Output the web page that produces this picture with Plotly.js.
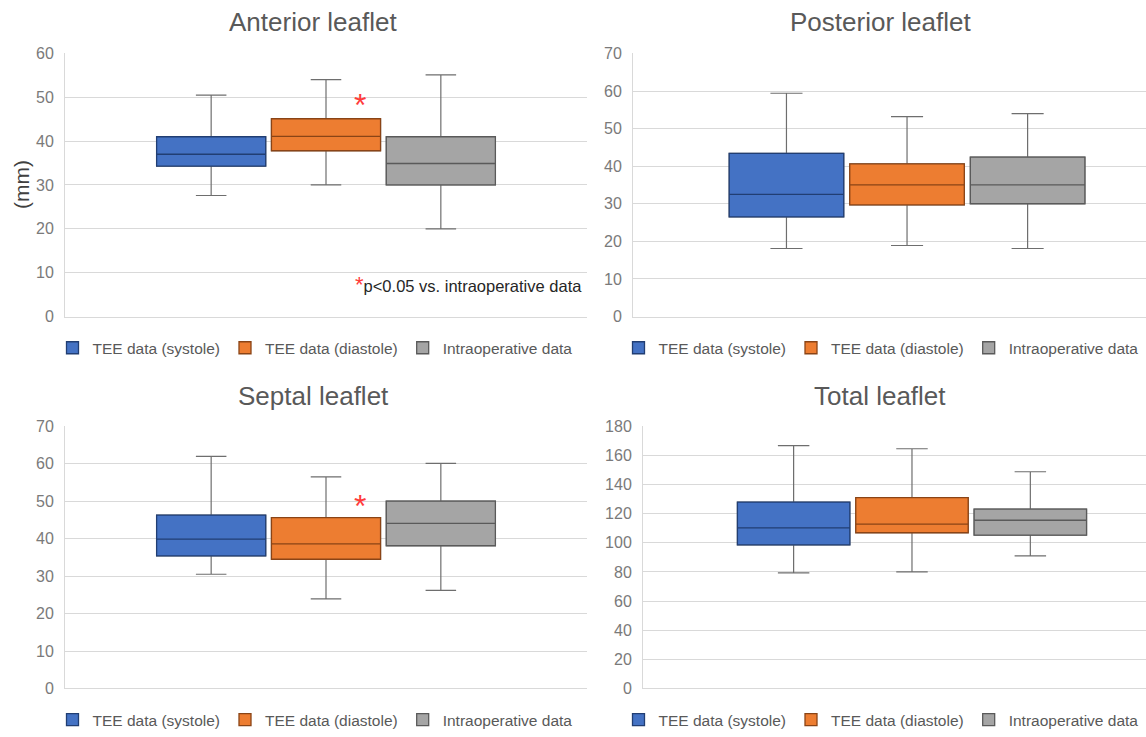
<!DOCTYPE html>
<html>
<head>
<meta charset="utf-8">
<script src="https://cdn.plot.ly/plotly-3.0.1.min.js"></script>
<style>html,body{margin:0;padding:0;background:#fff}#chart{width:1146px;height:737px}</style>
</head>
<body>
<div id="chart"></div>
<script>
// ---- data ----
const seriesNames = ['TEE data (systole)', 'TEE data (diastole)', 'Intraoperative data'];
const panelTitles = ['Anterior leaflet', 'Posterior leaflet', 'Septal leaflet', 'Total leaflet'];

const anteriorLow  = [27.6, 30.0, 20.0];
const anteriorQ1   = [34.3, 37.8, 30.0];
const anteriorMed  = [37.0, 41.1, 34.9];
const anteriorQ3   = [41.0, 45.1, 41.0];
const anteriorHigh = [50.5, 54.0, 55.1];

const posteriorLow  = [18.1, 18.9, 18.1];
const posteriorQ1   = [26.5, 29.7, 30.0];
const posteriorMed  = [32.5, 35.0, 35.0];
const posteriorQ3   = [43.4, 40.6, 42.4];
const posteriorHigh = [59.4, 53.2, 54.0];

const septalLow  = [30.5, 23.9, 26.2];
const septalQ1   = [35.4, 34.5, 38.1];
const septalMed  = [39.9, 38.6, 44.1];
const septalQ3   = [46.3, 45.6, 50.0];
const septalHigh = [62.0, 56.5, 60.1];

const totalLow  = [79.3, 80.0, 91.1];
const totalQ1   = [98.6, 106.9, 105.3];
const totalMed  = [110.3, 112.8, 115.5];
const totalQ3   = [128.0, 131.1, 123.2];
const totalHigh = [166.7, 164.6, 148.8];

const yMax = [60, 70, 70, 180];
const yStep = [10, 10, 10, 20];

// ---- styling ----
const FONT = 'Liberation Sans, Arial, sans-serif';
const fills = ['#4472C4', '#ED7D31', '#A5A5A5'];
const borders = ['#213E73', '#8A4416', '#5A5A5A'];
const whiskerColor = '#6E6E6E';

const panelData = [
  [anteriorLow, anteriorQ1, anteriorMed, anteriorQ3, anteriorHigh],
  [posteriorLow, posteriorQ1, posteriorMed, posteriorQ3, posteriorHigh],
  [septalLow, septalQ1, septalMed, septalQ3, septalHigh],
  [totalLow, totalQ1, totalMed, totalQ3, totalHigh]
];

const traces = [];
panelData.forEach((pd, p) => {
  const suf = p === 0 ? '' : String(p + 1);
  for (let s = 0; s < 3; s++) {
    const common = {
      type: 'box',
      name: seriesNames[s],
      offsetgroup: 'series' + s,
      x: ['g'],
      q1: [pd[1][s]],
      median: [pd[2][s]],
      q3: [pd[3][s]],
      xaxis: 'x' + suf,
      yaxis: 'y' + suf,
      legend: 'legend' + suf,
      fillcolor: fills[s],
      marker: {color: fills[s]},
      boxpoints: false,
      hoverinfo: 'skip'
    };
    // whiskers (gray) drawn underneath
    traces.push(Object.assign({}, common, {
      lowerfence: [pd[0][s]],
      upperfence: [pd[4][s]],
      line: {color: whiskerColor, width: 1.2},
      whiskerwidth: 0.28,
      showlegend: false
    }));
    // box body with series-coloured border on top
    traces.push(Object.assign({}, common, {
      lowerfence: [pd[1][s]],
      upperfence: [pd[3][s]],
      line: {color: borders[s], width: 1.3},
      whiskerwidth: 0,
      showlegend: true
    }));
  }
});

const W = 1146, H = 737;
const px = v => v / W;
const py = v => 1 - v / H;

const xDomains = [[px(65), px(587)], [px(633), 1], [px(65), px(587)], [px(643), 1]];
const yDomains = [[py(320), py(54)], [py(320), py(54)], [py(696), py(431)], [py(696), py(431)]];
const xRanges = [[-0.5, 0.5], [-0.5, 0.436], [-0.5, 0.5], [-0.5, 0.435]];

const layout = {
  width: W, height: H,
  margin: {l: 0, r: 0, t: 0, b: 0},
  paper_bgcolor: '#fff', plot_bgcolor: '#fff',
  font: {family: FONT, color: '#595959'},
  boxmode: 'group', boxgap: 0.34, boxgroupgap: 0.05,
  annotations: [], showlegend: true
};

for (let p = 0; p < 4; p++) {
  const suf = p === 0 ? '' : String(p + 1);
  layout['xaxis' + suf] = {
    domain: xDomains[p], anchor: 'y' + suf, type: 'category',
    range: xRanges[p], showticklabels: false, showgrid: false, zeroline: false,
    showline: true, linecolor: '#D9D9D9', linewidth: 1, fixedrange: true, automargin: false
  };
  layout['yaxis' + suf] = {
    domain: yDomains[p], anchor: 'x' + suf, range: [0, yMax[p]], dtick: yStep[p], tick0: 0,
    showgrid: true, gridcolor: '#D9D9D9', gridwidth: 1, zeroline: false,
    showline: true, linecolor: '#D9D9D9', linewidth: 1,
    ticks: '', ticklabelstandoff: 7,
    tickfont: {family: FONT, size: 16, color: '#7A7A7A'},
    fixedrange: true, automargin: false
  };
}

const legendX = [315, 881, 315, 881];
const legendY = [352, 352, 728, 728];
for (let p = 0; p < 4; p++) {
  const key = p === 0 ? 'legend' : 'legend' + (p + 1);
  layout[key] = {
    orientation: 'h', x: px(legendX[p]), xanchor: 'center', y: py(legendY[p]), yanchor: 'middle',
    font: {family: FONT, size: 15.5, color: '#595959'}, bgcolor: 'rgba(0,0,0,0)',
    itemwidth: 30, itemclick: false, itemdoubleclick: false, tracegroupgap: 0
  };
}

// panel titles
const titleX = [313, 880, 313, 880];
const titleY = [22, 22, 400, 400];
for (let p = 0; p < 4; p++) {
  layout.annotations.push({
    text: panelTitles[p], xref: 'paper', yref: 'paper', x: px(titleX[p]), y: py(titleY[p]),
    xanchor: 'center', yanchor: 'middle', showarrow: false,
    font: {family: FONT, size: 26, color: '#595959'}
  });
}
// y axis label
layout.annotations.push({
  text: '(mm)', xref: 'paper', yref: 'paper', x: px(22), y: py(187), textangle: -90,
  xanchor: 'center', yanchor: 'middle', showarrow: false,
  font: {family: FONT, size: 21, color: '#404040'}
});
// significance asterisks
layout.annotations.push({
  text: '*', xref: 'x domain', yref: 'y', x: 0.566, y: 48.2, showarrow: false,
  xanchor: 'center', yanchor: 'middle', font: {family: FONT, size: 32, color: '#FF3B3B'}
});
layout.annotations.push({
  text: '*', xref: 'x3 domain', yref: 'y3', x: 0.566, y: 48.6, showarrow: false,
  xanchor: 'center', yanchor: 'middle', font: {family: FONT, size: 32, color: '#FF3B3B'}
});
// footnote
layout.annotations.push({
  text: '<span style="color:#FF3B3B;font-size:22px">*</span>p&lt;0.05 vs. intraoperative data',
  xref: 'x domain', yref: 'y', x: 0.995, y: 7.4, showarrow: false,
  xanchor: 'right', yanchor: 'middle', font: {family: FONT, size: 16.5, color: '#262626'}
});

Plotly.newPlot('chart', traces, layout, {staticPlot: true, displayModeBar: false});
</script>
</body>
</html>
